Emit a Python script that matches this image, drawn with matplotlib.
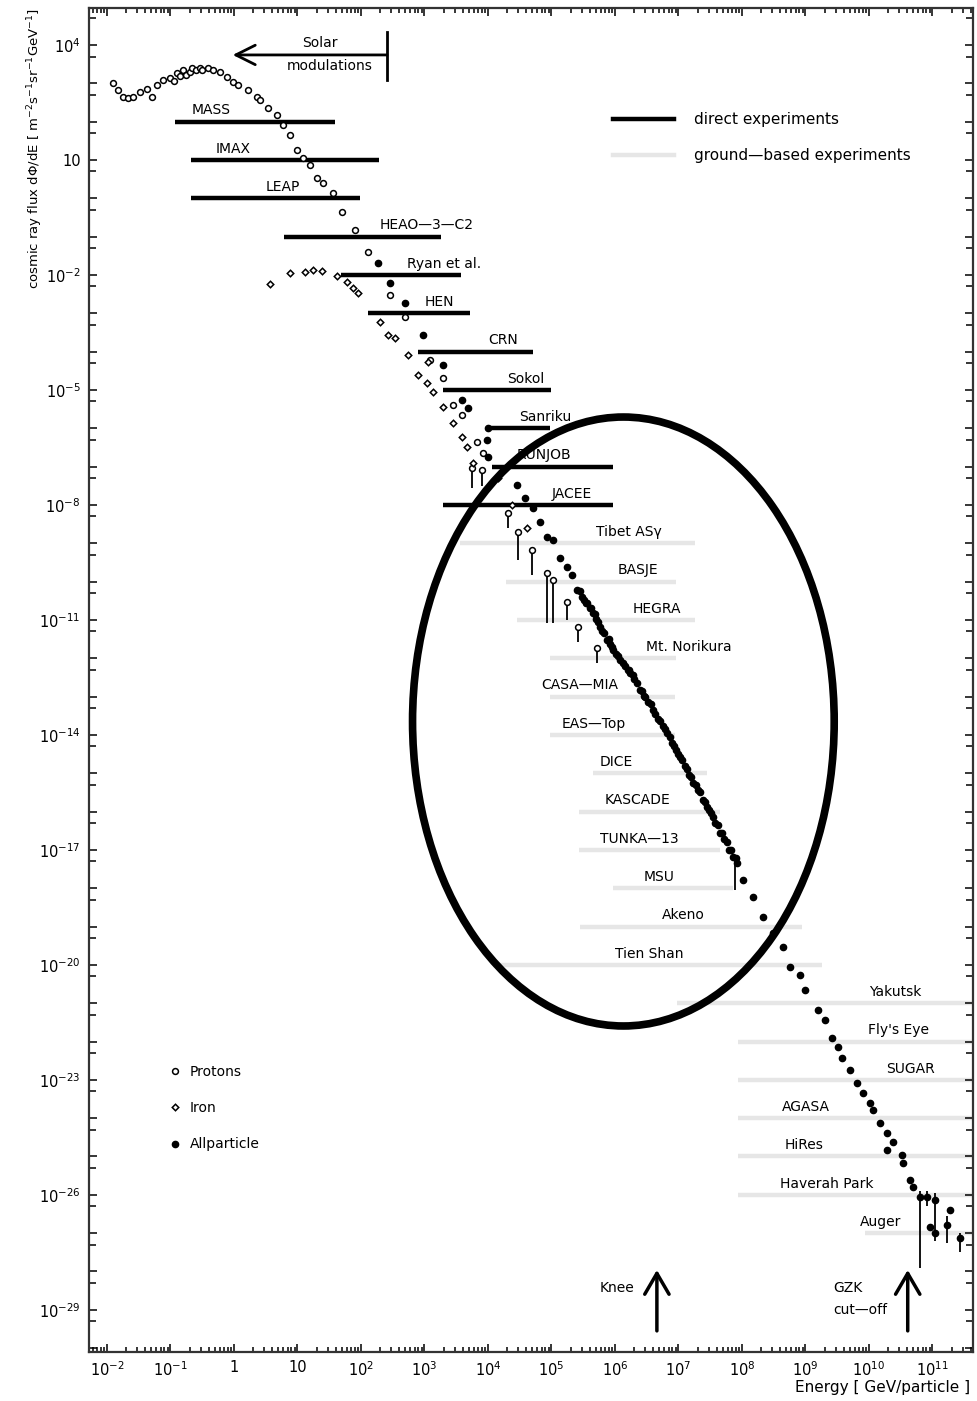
import matplotlib
matplotlib.use('Agg')
import matplotlib.pyplot as plt
import numpy as np
from matplotlib.patches import Ellipse
from matplotlib.lines import Line2D

plt.rcParams['font.family'] = ['DejaVu Sans']
plt.rcParams['mathtext.default'] = 'regular'

# log10(E / GeV) and log10(flux)
proton_logE = [-1.91, -1.83, -1.75, -1.67, -1.59, -1.48, -1.37, -1.29, -1.21, -1.12, -1.01, -0.95,
               -0.90, -0.85, -0.80, -0.75, -0.70, -0.66, -0.60, -0.54, -0.50, -0.41, -0.33, -0.22,
               -0.11, -0.02, 0.06, 0.22, 0.36, 0.41, 0.54, 0.68, 0.77, 0.88, 0.99, 1.09, 1.20,
               1.31, 1.40, 1.56, 1.70, 1.91, 2.11, 2.46, 2.69, 3.09, 3.29, 3.45, 3.59, 3.83, 3.92]
proton_logF = [3.01, 2.83, 2.64, 2.62, 2.64, 2.77, 2.85, 2.64, 2.96, 3.09, 3.14, 3.05,
               3.27, 3.20, 3.35, 3.22, 3.30, 3.40, 3.35, 3.40, 3.35, 3.40, 3.35, 3.30,
               3.17, 3.03, 2.96, 2.83, 2.64, 2.57, 2.36, 2.17, 1.91, 1.65, 1.26, 1.05, 0.87,
               0.53, 0.40, 0.14, -0.36, -0.83, -1.40, -2.52, -3.10, -4.22, -4.69, -5.39, -5.65, -6.36, -6.64]

# proton points drawn with long downward bars
proton_lim_logE = [3.75, 3.91, 4.31, 4.47, 4.69, 4.93, 5.02, 5.24, 5.42, 5.72]
proton_lim_logF = [-7.04, -7.10, -8.21, -8.70, -9.18, -9.78, -9.96, -10.53, -11.18, -11.73]
proton_lim_low = [-7.56, -7.50, -8.60, -9.44, -9.83, -11.08, -11.08, -11.00, -11.57, -12.12]

iron_logE = [0.57, 0.88, 1.12, 1.24, 1.39, 1.62, 1.78, 1.87, 1.95, 2.30, 2.43, 2.54, 2.74, 2.90,
             3.06, 3.04, 3.13, 3.29, 3.45, 3.59, 3.67, 3.76, 4.15, 4.38, 4.62]
iron_logF = [-2.24, -1.95, -1.92, -1.87, -1.90, -2.03, -2.18, -2.34, -2.47, -3.23, -3.57, -3.64, -4.09, -4.61,
             -4.27, -4.82, -5.05, -5.44, -5.86, -6.23, -6.49, -6.91, -7.30, -8.00, -8.60]

all_logE = [2.27, 2.46, 2.69, 2.98, 3.29, 3.59, 3.69, 4.00, 3.98, 4.00, 4.46, 4.58, 4.71, 4.82, 4.93,
            5.03, 5.13, 5.24, 5.32, 5.40, 5.48, 5.52, 5.56, 5.60, 5.65, 5.70, 5.76, 5.80, 5.87, 5.92,
            5.97, 6.02, 6.08, 6.12, 6.20, 6.24, 6.30, 6.39, 6.45, 6.52, 6.60, 6.68, 6.75, 6.82, 6.90,
            6.96, 7.02, 7.10, 7.16, 7.23, 7.30, 7.38, 7.45, 7.52, 7.58, 7.65, 7.72, 7.80, 7.86, 7.92,
            8.02, 8.17, 8.33, 8.49, 8.65, 8.76, 8.91, 8.99, 9.20, 9.31, 9.42, 9.51, 9.57, 9.70, 9.81,
            9.91, 10.02, 10.06, 10.17, 10.28, 10.38, 10.28, 10.52, 10.54, 10.65, 10.69, 10.80, 10.91,
            11.04, 11.28, 10.96, 11.04, 11.23, 11.43]
all_logF = [-1.69, -2.21, -2.73, -3.57, -4.35, -5.26, -5.47, -5.99, -6.31, -6.75, -7.48, -7.82, -8.08, -8.44, -8.84,
            -8.91, -9.38, -9.62, -9.83, -10.22, -10.40, -10.48, -10.56, -10.70, -10.82, -10.98, -11.18, -11.30, -11.52, -11.62,
            -11.78, -11.90, -12.04, -12.12, -12.30, -12.38, -12.55, -12.83, -12.98, -13.15, -13.35, -13.58, -13.76, -13.95, -14.20,
            -14.40, -14.58, -14.80, -15.05, -15.25, -15.45, -15.70, -15.88, -16.05, -16.30, -16.56, -16.72, -17.00, -17.18, -17.35,
            -17.78, -18.23, -18.75, -19.17, -19.53, -20.05, -20.26, -20.65, -21.18, -21.44, -21.91, -22.14, -22.43, -22.74, -23.08,
            -23.34, -23.60, -23.78, -24.12, -24.38, -24.62, -24.83, -24.96, -25.17, -25.61, -25.79, -26.05, -26.05,
            -26.13, -26.39, -26.84, -26.99, -26.79, -27.12]

# second all-particle set filling the dense band around the knee
band_logE = [5.45, 5.55, 5.62, 5.68, 5.74, 5.83, 5.90, 5.95, 6.05, 6.15, 6.22, 6.28, 6.35, 6.42, 6.48,
             6.56, 6.63, 6.71, 6.79, 6.86, 6.93, 7.00, 7.06, 7.13, 7.20, 7.27, 7.34, 7.41, 7.48, 7.55,
             7.62, 7.69, 7.76, 7.83, 7.90]
band_logF = [-10.25, -10.55, -10.70, -10.85, -11.05, -11.35, -11.50, -11.70, -11.95, -12.20, -12.30, -12.45,
             -12.65, -12.85, -13.00, -13.20, -13.45, -13.65, -13.85, -14.05, -14.30, -14.50, -14.65, -14.90,
             -15.10, -15.30, -15.50, -15.75, -15.95, -16.15, -16.35, -16.55, -16.80, -17.00, -17.20]

# all-particle error bars
all_err_logE = [7.89, 10.80, 10.91, 11.04, 11.23, 11.43]
all_err_hi = [-17.30, -25.90, -25.90, -25.95, -26.55, -27.00]
all_err_lo = [-18.05, -27.90, -26.30, -27.20, -27.25, -27.50]

direct_names = ['MASS', 'IMAX', 'LEAP', 'HEAO\u20143\u2014C2', 'Ryan et al.', 'HEN', 'CRN', 'Sokol',
                'Sanriku', 'RUNJOB', 'JACEE']
direct_logF = [2, 1, 0, -1, -2, -3, -4, -5, -6, -7, -8]
direct_lo = [-0.93, -0.68, -0.68, 0.79, 1.69, 2.11, 2.90, 3.29, 3.98, 4.06, 3.29]
direct_hi = [1.59, 2.28, 1.98, 3.26, 3.57, 3.72, 4.71, 4.99, 4.98, 5.97, 5.97]
direct_lab = [-0.36, -0.02, 0.77, 3.04, 3.31, 3.24, 4.24, 4.60, 4.90, 4.88, 5.32]

ground_names = ['Tibet AS\u03b3', 'BASJE', 'HEGRA', 'Mt. Norikura', 'CASA\u2014MIA', 'EAS\u2014Top', 'DICE',
                'KASCADE', 'TUNKA\u201413', 'MSU', 'Akeno', 'Tien Shan', 'Yakutsk', "Fly's Eye", 'SUGAR',
                'AGASA', 'HiRes', 'Haverah Park', 'Auger']
ground_logF = [-9, -10, -11, -12, -13, -14, -15, -16, -17, -18, -19, -20, -21, -22, -23, -24, -25, -26, -27]
ground_lo = [3.56, 4.28, 4.46, 4.98, 4.98, 4.98, 5.65, 5.43, 5.43, 5.97, 5.45, 4.08, 6.98, 7.94, 7.94,
             7.94, 7.94, 7.94, 9.94]
ground_hi = [7.26, 6.96, 7.26, 6.96, 6.94, 6.94, 7.45, 7.65, 7.65, 7.86, 8.94, 9.26, 11.7, 11.7, 11.7,
             11.7, 11.7, 11.7, 11.7]
ground_lab = [6.22, 6.36, 6.66, 7.17, 5.45, 5.67, 6.02, 6.35, 6.38, 6.69, 7.07, 6.54, 10.41, 10.46, 10.65,
              9.01, 8.98, 9.34, 10.19]

xtick_exp = list(range(-2, 12))
ytick_exp = list(range(-30, 5))

fig = plt.figure(figsize=(9.77, 14.01), dpi=100)
ax = fig.add_axes([0.0911, 0.035, 0.9048, 0.9593])

gray = '#e6e6e6'
for lo, hi, f in zip(ground_lo, ground_hi, ground_logF):
    ax.plot([10**lo, 10**hi], [10.0**f, 10.0**f], color=gray, lw=3.2, solid_capstyle='butt', zorder=1)
for lo, hi, f in zip(direct_lo, direct_hi, direct_logF):
    ax.plot([10**lo, 10**hi], [10.0**f, 10.0**f], color='black', lw=3.2, solid_capstyle='butt', zorder=2)

for name, lx, f in zip(direct_names + ground_names, direct_lab + ground_lab, direct_logF + ground_logF):
    ax.annotate(name, (10**lx, 10.0**f), xytext=(0, 3), textcoords='offset points',
                ha='center', va='bottom', fontsize=10, zorder=3)

ax.vlines(10**np.array(proton_lim_logE), 10**np.array(proton_lim_low), 10**np.array(proton_lim_logF),
          color='black', lw=1.3, zorder=3)
ax.vlines(10**np.array(all_err_logE), 10**np.array(all_err_lo), 10**np.array(all_err_hi),
          color='black', lw=1.3, zorder=3)

ax.plot(10**np.array(proton_logE), 10**np.array(proton_logF), 'o', ms=4.2, mfc='white', mec='black',
        mew=1.1, ls='none', label='Protons', zorder=4)
ax.plot(10**np.array(proton_lim_logE), 10**np.array(proton_lim_logF), 'o', ms=4.2, mfc='white', mec='black',
        mew=1.1, ls='none', zorder=4)
ax.plot(10**np.array(iron_logE), 10**np.array(iron_logF), 'D', ms=3.3, mfc='white', mec='black',
        mew=1.1, ls='none', label='Iron', zorder=4)
ax.plot(10**np.array(all_logE), 10**np.array(all_logF), 'o', ms=4.5, color='black',
        ls='none', label='Allparticle', zorder=4)
ax.plot(10**np.array(band_logE), 10**np.array(band_logF), 'o', ms=4.5, color='black',
        ls='none', zorder=4)

# annotations
ax.annotate('', xy=(10**-0.02, 10**3.74), xytext=(10**2.41, 10**3.74),
            arrowprops=dict(arrowstyle='->,head_length=0.7,head_width=0.35', lw=2, color='black',
                            mutation_scale=20, shrinkA=0, shrinkB=0))
ax.plot([10**2.41, 10**2.41], [10**3.09, 10**4.34], color='black', lw=2)
ax.text(10**1.35, 10**4.05, 'Solar', ha='center', va='center', fontsize=10)
ax.text(10**1.51, 10**3.45, 'modulations', ha='center', va='center', fontsize=10)

for lx in [6.66, 10.61]:
    ax.annotate('', xy=(10**lx, 10**-27.96), xytext=(10**lx, 10**-29.55),
                arrowprops=dict(arrowstyle='->,head_length=0.6,head_width=0.35', lw=2.5, color='black',
                                mutation_scale=25, shrinkA=0, shrinkB=0))
ax.text(10**6.03, 10**-28.43, 'Knee', ha='center', va='center', fontsize=10)
ax.text(10**9.43, 10**-28.43, 'GZK', ha='left', va='center', fontsize=10)
ax.text(10**9.43, 10**-29.0, 'cut\u2014off', ha='left', va='center', fontsize=10)

ax.add_patch(Ellipse((0.6045, 0.4691), 0.4770, 0.4531, transform=ax.transAxes,
                     fill=False, ec='black', lw=5.5, zorder=6))

# legends
leg1 = ax.legend(loc='upper left', bbox_to_anchor=(0.089, 0.2135), frameon=False, fontsize=10,
                 borderaxespad=0, borderpad=0, handlelength=1, handletextpad=0.6, labelspacing=1.6)
ax.add_artist(leg1)
line_handles = [Line2D([], [], color='black', lw=3.2), Line2D([], [], color=gray, lw=3.2)]
ax.legend(line_handles, ['direct experiments', 'ground\u2014based experiments'], loc='upper left',
          bbox_to_anchor=(0.593, 0.9226), frameon=False, fontsize=11, borderaxespad=0, borderpad=0,
          handlelength=4.0, handletextpad=1.3, labelspacing=1.4)

ax.set_xscale('log')
ax.set_yscale('log')
ax.set_xlim(10**-2.283, 10**11.638)
ax.set_ylim(10**-30.10, 10**4.965)

xlabels = []
for k in xtick_exp:
    if k == 0:
        xlabels.append('1')
    elif k == 1:
        xlabels.append('10')
    else:
        xlabels.append('$10^{%d}$' % k)
ax.xaxis.set_major_locator(matplotlib.ticker.FixedLocator([10.0**k for k in xtick_exp]))
ax.xaxis.set_major_formatter(matplotlib.ticker.FixedFormatter(xlabels))
ax.xaxis.set_minor_locator(matplotlib.ticker.FixedLocator(
    [m * 10.0**k for k in range(-3, 12) for m in range(2, 10)]))
ax.xaxis.set_minor_formatter(matplotlib.ticker.NullFormatter())

ylabels = []
for k in ytick_exp:
    if (4 - k) % 3 == 0:
        ylabels.append('10' if k == 1 else '$10^{%d}$' % k)
    else:
        ylabels.append('')
ax.yaxis.set_major_locator(matplotlib.ticker.FixedLocator([10.0**k for k in ytick_exp]))
ax.yaxis.set_major_formatter(matplotlib.ticker.FixedFormatter(ylabels))
ax.yaxis.set_minor_locator(matplotlib.ticker.FixedLocator([5 * 10.0**(k - 1) for k in range(-30, 6)]))
ax.yaxis.set_minor_formatter(matplotlib.ticker.NullFormatter())

ax.tick_params(which='both', direction='in', top=True, right=True, labelsize=10.5, width=1.1)
ax.tick_params(which='major', length=6, pad=6)
ax.tick_params(axis='x', which='minor', length=3.5)
ax.tick_params(axis='y', which='minor', length=5)
for s in ax.spines.values():
    s.set_linewidth(1.6)
    s.set_color('#333333')

ax.set_ylabel('cosmic ray flux d\u03a6/dE [ m$^{-2}$s$^{-1}$sr$^{-1}$GeV$^{-1}$]', loc='top', fontsize=9.5)
ax.yaxis.set_label_coords(-0.05, 1.0)
ax.set_xlabel('Energy [ GeV/particle ]', loc='right', fontsize=11)
ax.xaxis.set_label_coords(0.997, -0.021)

fig.savefig('out.png', dpi=100)
